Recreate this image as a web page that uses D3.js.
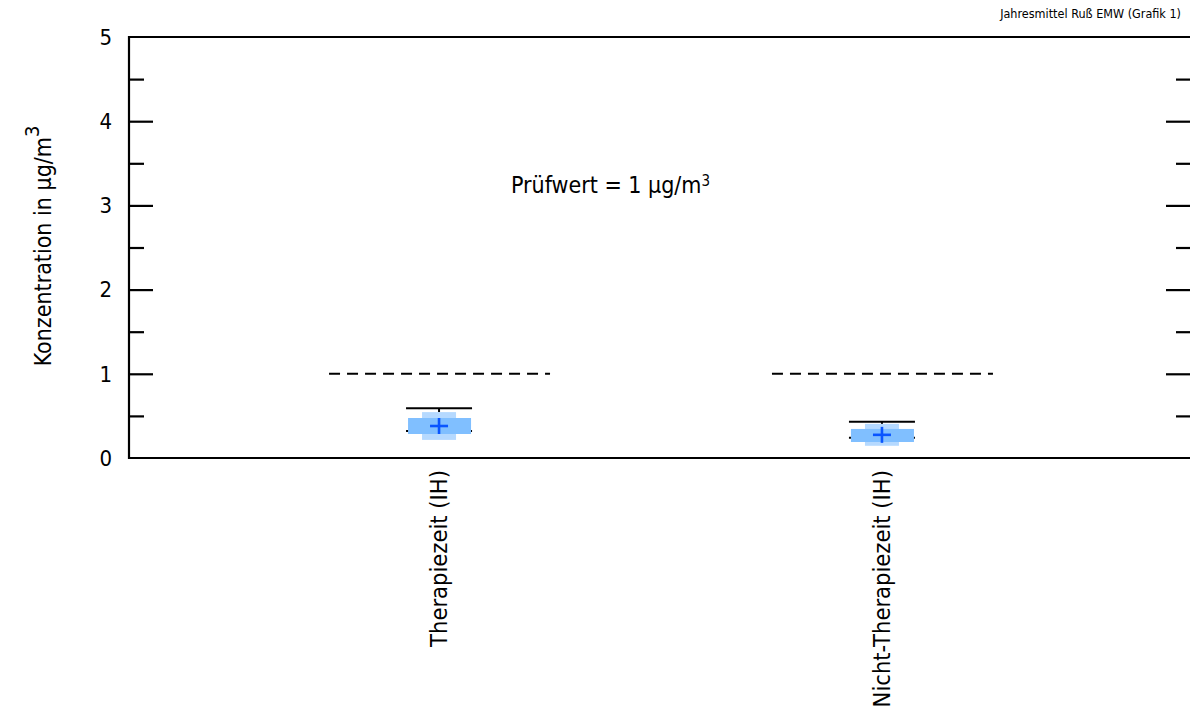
<!DOCTYPE html>
<html>
<head>
<meta charset="utf-8">
<script src="https://cdn.jsdelivr.net/npm/d3@7"></script>
<style>
  html, body { margin: 0; padding: 0; background: #fff; }
  svg { display: block; font-family: "Liberation Sans Narrow", "DejaVu Sans Condensed", "Liberation Sans", sans-serif; }
</style>
</head>
<body>
<svg id="chart" width="1190" height="708"></svg>
<script>
// Annual mean soot concentration per period
const categories = ["Therapiezeit (IH)", "Nicht-Therapiezeit (IH)"];
const whiskerHigh = [0.59, 0.43];
const whiskerLow = [0.32, 0.24];
const rangeHigh = [0.545, 0.405];
const rangeLow = [0.215, 0.145];
const boxHigh = [0.475, 0.345];
const boxLow = [0.285, 0.19];
const means = [0.38, 0.275];
const limitValue = 1;
const yTicks = [0, 1, 2, 3, 4, 5];
const yMinorTicks = [0.5, 1.5, 2.5, 3.5, 4.5];

const svg = d3.select("#chart");
const plotLeft = 129, plotRight = 1192, plotTop = 37, plotBottom = 458;

const x = d3.scalePoint().domain(categories).range([plotLeft, plotRight]).padding(0.7);
const y = d3.scaleLinear().domain([0, 5]).range([plotBottom, plotTop]);

const rows = categories.map((c, i) => ({
  c, wh: whiskerHigh[i], wl: whiskerLow[i], rh: rangeHigh[i], rl: rangeLow[i],
  bh: boxHigh[i], bl: boxLow[i], m: means[i]
}));

// Frame: left, top, bottom, right
const frame = svg.append("g").attr("stroke", "#000").attr("stroke-width", 2.2).attr("fill", "none");
frame.append("line").attr("x1", plotLeft).attr("x2", plotLeft).attr("y1", plotTop - 1).attr("y2", plotBottom + 1);
frame.append("line").attr("x1", plotLeft).attr("x2", plotRight).attr("y1", plotTop).attr("y2", plotTop);
frame.append("line").attr("x1", plotLeft).attr("x2", plotRight).attr("y1", plotBottom).attr("y2", plotBottom);
frame.append("line").attr("x1", plotRight).attr("x2", plotRight).attr("y1", plotTop).attr("y2", plotBottom);

// Left axis with inward ticks
const axisL = svg.append("g").attr("transform", `translate(${plotLeft},0)`)
  .call(d3.axisRight(y).tickValues(yTicks).tickSize(24).tickFormat(""));
axisL.select(".domain").remove();
axisL.selectAll(".tick line").attr("stroke-width", 2.2);
axisL.selectAll(".tick").filter(d => d === 0 || d === 5).select("line").remove();
svg.append("g").attr("transform", `translate(${plotLeft},0)`)
  .call(d3.axisRight(y).tickValues(yMinorTicks).tickSize(15).tickFormat(""))
  .call(g => g.select(".domain").remove())
  .selectAll(".tick line").attr("stroke-width", 2.2);

// Tick labels
svg.append("g").selectAll("text").data(yTicks).join("text")
  .attr("x", 112).attr("y", d => y(d)).attr("dy", "0.35em")
  .attr("text-anchor", "end").attr("font-size", 22).attr("font-weight", "500")
  .attr("fill", "#000").text(d => d);

// Right axis with inward ticks
const axisR = svg.append("g").attr("transform", `translate(${plotRight - 2},0)`)
  .call(d3.axisLeft(y).tickValues(yTicks).tickSize(24).tickFormat(""));
axisR.select(".domain").remove();
axisR.selectAll(".tick line").attr("stroke-width", 2.2);
axisR.selectAll(".tick").filter(d => d === 0 || d === 5).select("line").remove();
svg.append("g").attr("transform", `translate(${plotRight - 2},0)`)
  .call(d3.axisLeft(y).tickValues(yMinorTicks).tickSize(14).tickFormat(""))
  .call(g => g.select(".domain").remove())
  .selectAll(".tick line").attr("stroke-width", 2.2);

// Limit value per category
svg.append("g").selectAll("line").data(categories).join("line")
  .attr("x1", d => x(d) - 110).attr("x2", d => x(d) + 111)
  .attr("y1", y(limitValue)).attr("y2", y(limitValue))
  .attr("stroke", "#000").attr("stroke-width", 2).attr("stroke-dasharray", "11,7");

const marks = svg.append("g").selectAll("g").data(rows).join("g")
  .attr("transform", d => `translate(${x(d.c)},0)`);

// Whiskers
marks.append("line").attr("x1", -33).attr("x2", 33)
  .attr("y1", d => y(d.wl)).attr("y2", d => y(d.wl))
  .attr("stroke", "#000").attr("stroke-width", 2);
marks.append("line").attr("x1", 0).attr("x2", 0)
  .attr("y1", d => y(d.wh)).attr("y2", d => y(d.rh))
  .attr("stroke", "#000").attr("stroke-width", 2);
marks.append("line").attr("x1", -33).attr("x2", 33)
  .attr("y1", d => y(d.wh)).attr("y2", d => y(d.wh))
  .attr("stroke", "#000").attr("stroke-width", 2);

// Range band and box
marks.append("rect").attr("x", -17).attr("width", 34)
  .attr("y", d => y(d.rh)).attr("height", d => y(d.rl) - y(d.rh))
  .attr("fill", "#b5d9ff");
marks.append("rect").attr("x", -31).attr("width", 63)
  .attr("y", d => y(d.bh)).attr("height", d => y(d.bl) - y(d.bh))
  .attr("fill", "#80bfff");

// Mean marker
marks.append("line").attr("x1", -9).attr("x2", 9)
  .attr("y1", d => y(d.m)).attr("y2", d => y(d.m))
  .attr("stroke", "#0a55ff").attr("stroke-width", 2.6);
marks.append("line").attr("x1", 0).attr("x2", 0)
  .attr("y1", d => y(d.m) - 8).attr("y2", d => y(d.m) + 8)
  .attr("stroke", "#0a55ff").attr("stroke-width", 2.6);

// Category labels
svg.append("g").selectAll("text").data(categories).join("text")
  .attr("transform", d => `translate(${x(d) + 8},470) rotate(-90)`)
  .attr("text-anchor", "end").attr("font-size", 23.5).attr("fill", "#000")
  .text(d => d);

// Y axis title
const yTitle = svg.append("text")
  .attr("transform", "translate(51,246) rotate(-90)")
  .attr("text-anchor", "middle").attr("font-size", 23).attr("fill", "#000");
yTitle.append("tspan").text("Konzentration in µg/m");
yTitle.append("tspan").attr("dy", "-0.6em").attr("font-size", 20).text("3");

// Limit annotation
const ann = svg.append("text").attr("x", 511).attr("y", 193)
  .attr("font-size", 23).attr("fill", "#000");
ann.append("tspan").text("Prüfwert = 1 µg/m");
ann.append("tspan").attr("dy", "-0.5em").attr("font-size", 15).text("3");

// Corner title
svg.append("text").attr("x", 1181).attr("y", 18)
  .attr("text-anchor", "end").attr("font-size", 12.5).attr("fill", "#000")
  .text("Jahresmittel Ruß EMW (Grafik 1)");
</script>
</body>
</html>
